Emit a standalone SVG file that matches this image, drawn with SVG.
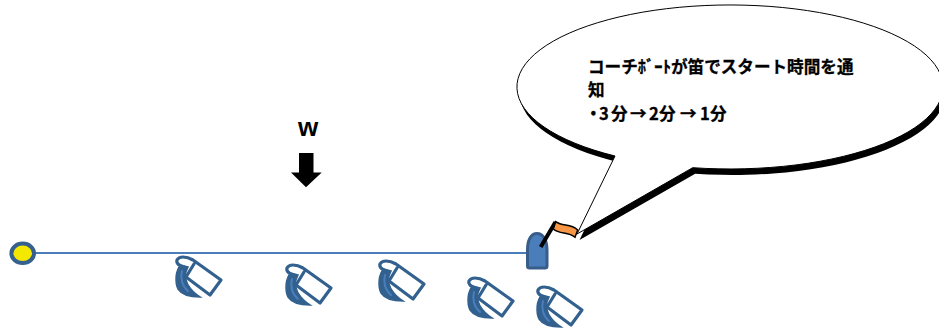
<svg xmlns="http://www.w3.org/2000/svg" width="939" height="332" viewBox="0 0 939 332">
<style>
.t{font-family:"Noto Sans CJK JP","Liberation Sans",sans-serif;font-size:16.6px;font-weight:700;fill:#000;stroke:#000;stroke-width:.3}
.hull{fill:none;stroke:#33618f;stroke-width:3.2;stroke-linejoin:round;stroke-linecap:round}
.cres{fill:#33618f;stroke:#33618f;stroke-width:1.5}
.in{fill:none;stroke:#4a7ebb;stroke-width:2;stroke-linecap:round}
</style>
<defs>
<g id="boat">
<path class="cres" d="M21,20C15,25 15,38 18,44C22,50 32,52 40,52C35,49 31,45 28,40C25,34 25,27 28,22Z"/>
<path class="in" d="M22,26C20,33 22,41 28,46"/>
<path class="hull" d="M24,22C19,21 16,18 17,15C19,11 26,11 33,15L61,35L50,50L26,32L34,19"/>
</g>
</defs>
<g id="connectors">
<path d="M35,253H527" fill="none" stroke="#4a7ebb" stroke-width="2"/>
</g>
<g id="buoy">
<ellipse cx="22.700" cy="253.300" rx="11.300" ry="9.700" fill="#f5e800" stroke="#35608f" stroke-width="4"/>
</g>
<g id="boat1"><use href="#boat" x="160" y="245"/></g>
<g id="boat2"><use href="#boat" x="270" y="253"/></g>
<g id="boat3"><use href="#boat" x="363" y="249"/></g>
<g id="boat4"><use href="#boat" x="452" y="266"/></g>
<g id="boat5"><use href="#boat" x="521" y="275"/></g>
<g id="wind">
<text x="308" y="136" text-anchor="middle" font-family="'Liberation Sans',sans-serif" font-size="26" font-weight="700" fill="#000">w</text>
<path d="M299,153H313.500V172.500H321.700L306,187.300L291,172.500H299Z" fill="#000"/>
</g>
<g id="coachboat">
<path d="M527.500,266C527.500,267.500 528,268 529.500,268H545C546.500,268 547,267.500 547,266V250C547,240 543,233.500 537,233.500C531,233.500 527.500,240 527.500,250Z" fill="#4a7ebb" stroke="#385d8a" stroke-width="3"/>
<path d="M540.700,247L555.500,222" fill="none" stroke="#000" stroke-width="4"/>
<path d="M555.700,221.700C563,227 570,223 577.700,230L575,237.300C568,231 560,235 553.300,229Z" fill="#f79646" stroke="#000" stroke-width="1.500"/>
</g>
<g id="callout">
<path d="M615,156L577,234L692.700,167.700A213,82 0 1 0 615,156Z" fill="#000" transform="translate(2.500,6)"/>
<path d="M615,156L577,234L692.700,167.700A213,82 0 1 0 615,156Z" fill="#fff" stroke="#000" stroke-width="1"/>
<text class="t" x="588" y="73">コーチﾎﾞｰﾄが笛でスタート時間を通</text>
<text class="t" x="588" y="96">知</text>
<text class="t" x="585 599 611 630 649 659 680 700 710" y="120">・3分→2分→1分</text>
</g>
</svg>
